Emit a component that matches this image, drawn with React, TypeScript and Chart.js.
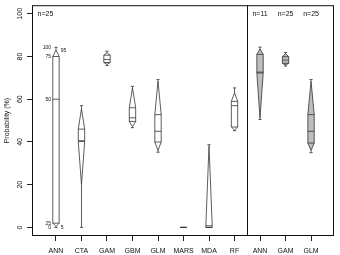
import React, { useEffect, useRef } from "react";
import { Chart, registerables } from "chart.js";

Chart.register(...registerables);

// ---- data ----
const categories = ["ANN", "CTA", "GAM", "GBM", "GLM", "MARS", "MDA", "RF", "ANN", "GAM", "GLM"];
// percentiles of predicted probability (%) for each model
const p0 = [0, 0, 75.8, 46.7, 35.2, 0, 0, 45.3, 50.5, 75.5, 35];
const p5 = [0.5, 20, 76.3, 47.2, 36, 0, 0, 45.6, 51, 76, 36];
const p25 = [2, 40.2, 77.2, 49.6, 40, 0, 0, 47, 72.3, 76.8, 39.5];
const p50 = [60, 40.6, 78.6, 51.3, 45, 0, 0, 57, 72.7, 78.3, 45];
const p75 = [80, 46, 80.6, 56, 52.8, 0, 0.8, 59, 81, 79.9, 52.8];
const p95 = [83, 55.5, 81.8, 65.3, 68.5, 0, 38.2, 63, 83.6, 81.3, 68.5];
const p100 = [84.3, 57, 82.5, 66, 69.2, 0, 38.7, 65.3, 84.4, 81.9, 69.2];
const fills = ["#ffffff", "#ffffff", "#ffffff", "#ffffff", "#ffffff", "#ffffff", "#ffffff", "#ffffff", "#bebebe", "#bebebe", "#bebebe"];

const yTicks = [0, 20, 40, 60, 80, 100];

const nLabels = ["n=25", "n=11", "n=25", "n=25"];
const nLabelPos = [0.28, 9, 10, 11];
const nLabelAlign = ["left", "center", "center", "center"];
const nLabelValue = 99.8;

// legend of percentile marks beside the first box
const annText = ["100", "95", "75", "50", "25", "0", "5"];
const annValue = [84.3, 82.6, 79.9, 60, 2, -0.2, -0.1];
const annSide = [-1, 1, -1, -1, -1, -1, 1];

const dividerAt = 8.5;

const FONT = "'Liberation Sans', Arial, Helvetica, sans-serif";
const BOX_HALF = 0.125;

const vasePlugin = {
  id: "vases",
  afterDatasetsDraw(chart: any) {
    const { ctx, chartArea, scales } = chart;
    const x = scales.x;
    const y = scales.y;
    const Y = (v: number) => y.getPixelForValue(v);
    const line = (x1: number, y1: number, x2: number, y2: number) => {
      ctx.beginPath();
      ctx.moveTo(x1, y1);
      ctx.lineTo(x2, y2);
      ctx.stroke();
    };
    ctx.save();
    ctx.lineWidth = 0.8;
    ctx.strokeStyle = "#333";
    for (let i = 0; i < categories.length; i++) {
      const cx = x.getPixelForValue(i + 1);
      const hw = x.getPixelForValue(i + 1 + BOX_HALF) - cx;
      const cw = hw * 0.5;
      // whiskers
      line(cx, Y(p100[i]), cx, Y(p95[i]));
      line(cx, Y(p5[i]), cx, Y(p0[i]));
      line(cx - cw, Y(p100[i]), cx + cw, Y(p100[i]));
      line(cx - cw, Y(p0[i]), cx + cw, Y(p0[i]));
      // body
      ctx.fillStyle = fills[i];
      ctx.beginPath();
      ctx.moveTo(cx, Y(p95[i]));
      ctx.lineTo(cx + hw, Y(p75[i]));
      ctx.lineTo(cx + hw, Y(p25[i]));
      ctx.lineTo(cx, Y(p5[i]));
      ctx.lineTo(cx - hw, Y(p25[i]));
      ctx.lineTo(cx - hw, Y(p75[i]));
      ctx.closePath();
      ctx.fill();
      ctx.stroke();
      line(cx - hw, Y(p75[i]), cx + hw, Y(p75[i]));
      line(cx - hw, Y(p25[i]), cx + hw, Y(p25[i]));
      line(cx - hw, Y(p50[i]), cx + hw, Y(p50[i]));
    }
    // frame and divider
    ctx.lineWidth = 1;
    ctx.strokeStyle = "#111";
    ctx.strokeRect(chartArea.left + 0.5, chartArea.top + 0.5, chartArea.right - chartArea.left - 1, chartArea.bottom - chartArea.top - 1);
    const dx = Math.round(x.getPixelForValue(dividerAt)) + 0.5;
    line(dx, chartArea.top, dx, chartArea.bottom);
    // n labels
    ctx.fillStyle = "#111";
    ctx.font = `7px ${FONT}`;
    ctx.textBaseline = "middle";
    nLabels.forEach((t, i) => {
      ctx.textAlign = nLabelAlign[i];
      ctx.fillText(t, x.getPixelForValue(nLabelPos[i]), Y(nLabelValue));
    });
    // percentile annotations
    ctx.font = `5px ${FONT}`;
    annText.forEach((t, i) => {
      const side = annSide[i];
      ctx.textAlign = side < 0 ? "right" : "left";
      ctx.fillText(t, x.getPixelForValue(1 + side * 0.19), Y(annValue[i]));
    });
    ctx.restore();
  },
};

export default function App() {
  const ref = useRef<HTMLCanvasElement>(null);
  useEffect(() => {
    const chart = new Chart(ref.current as HTMLCanvasElement, {
      type: "scatter",
      data: { datasets: [{ data: [], showLine: false }] },
      options: {
        animation: false,
        responsive: false,
        devicePixelRatio: 1,
        layout: { padding: { top: 5, right: 6, left: 0, bottom: 0 } },
        plugins: { legend: { display: false }, tooltip: { enabled: false } },
        scales: {
          x: {
            type: "linear",
            min: 0.06,
            max: 11.9,
            afterBuildTicks: (s: any) => {
              s.ticks = categories.map((_, i) => ({ value: i + 1 }));
            },
            afterFit: (s: any) => {
              s.height = 19;
            },
            ticks: {
              callback: (_v: any, i: number) => categories[i] ?? "",
              font: { family: FONT, size: 7 },
              color: "#111",
              padding: 6,
              autoSkip: false,
              minRotation: 0,
              maxRotation: 0,
            },
            grid: { drawOnChartArea: false, drawTicks: true, tickLength: 5, color: "#222" },
            border: { display: false },
          },
          y: {
            type: "linear",
            min: -4,
            max: 104,
            afterBuildTicks: (s: any) => {
              s.ticks = yTicks.map((v) => ({ value: v }));
            },
            afterFit: (s: any) => {
              s.width = 32;
            },
            ticks: {
              minRotation: 90,
              maxRotation: 90,
              crossAlign: "center",
              padding: 1,
              font: { family: FONT, size: 7 },
              color: "#111",
            },
            grid: { drawOnChartArea: false, drawTicks: true, tickLength: 5, color: "#222" },
            border: { display: false },
            title: {
              display: true,
              text: "Probability (%)",
              font: { family: FONT, size: 7 },
              color: "#111",
              padding: { top: 3, bottom: 0 },
            },
          },
        },
      } as any,
      plugins: [vasePlugin],
    });
    return () => chart.destroy();
  }, []);
  return (
    <div style={{ position: "absolute", left: 0, top: 0, width: 340, height: 255, background: "#fff" }}>
      <canvas ref={ref} width={340} height={255} />
    </div>
  );
}
